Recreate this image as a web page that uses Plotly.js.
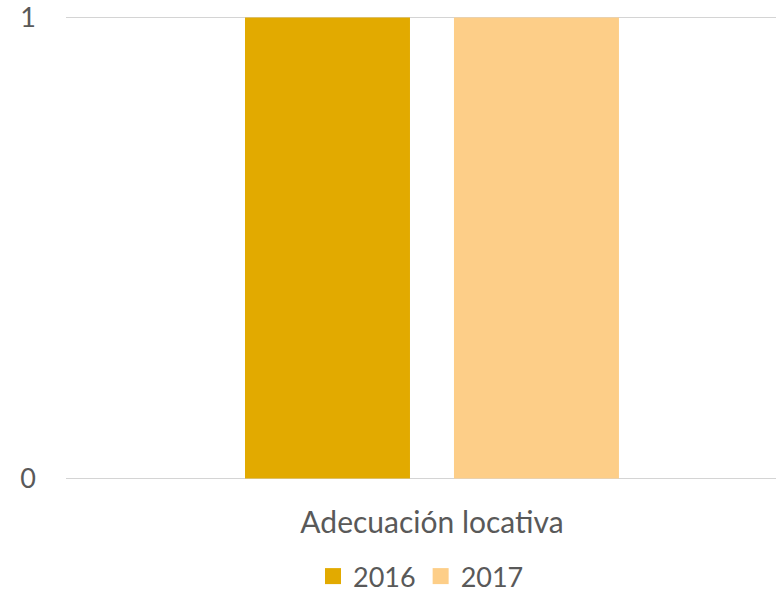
<!DOCTYPE html>
<html>
<head>
<meta charset="utf-8">
<script src="https://cdn.plot.ly/plotly-3.0.1.min.js"></script>
<style>body{margin:0;background:#fff}#chart{width:776px;height:595px}</style>
</head>
<body>
<div id="chart"></div>
<script>
const categories = ["Adecuación locativa"];
const seriesNames = ["2016", "2017"];
const values2016 = [1];
const values2017 = [1];
const colors = ["#E2AA00", "#FDCE88"];

const traces = [
  {type: "bar", name: seriesNames[0], x: categories, y: values2016, marker: {color: colors[0]}, hoverinfo: "none", showlegend: false},
  {type: "bar", name: seriesNames[1], x: categories, y: values2017, marker: {color: colors[1]}, hoverinfo: "none", showlegend: false},
  {type: "scatter", mode: "markers", name: seriesNames[0], x: categories, y: [null], marker: {color: colors[0], symbol: "square", size: 16}, hoverinfo: "none"},
  {type: "scatter", mode: "markers", name: seriesNames[1], x: categories, y: [null], marker: {color: colors[1], symbol: "square", size: 16}, hoverinfo: "none"}
];

const layout = {
  width: 776, height: 595,
  margin: {l: 66, r: 0, t: 13.4, b: 112.4},
  paper_bgcolor: "#fff", plot_bgcolor: "#fff",
  font: {family: "Lato, 'Open Sans', sans-serif", size: 27, color: "#595959"},
  barmode: "group", bargap: 0.429, bargroupgap: 0.2105,
  xaxis: {range: [-0.5, 0.47], automargin: false, showgrid: false, zeroline: false, showline: false, ticks: "", ticklabelstandoff: 19, tickfont: {size: 30, color: "#595959"}},
  yaxis: {range: [-0.01, 1.01], automargin: false, tickvals: [0, 1], ticktext: ["0", "1"], showgrid: true, gridcolor: "#d4d4d4", gridwidth: 1.5, zeroline: false, showline: false, ticks: "", ticklabelstandoff: 29, tickfont: {size: 27, color: "#595959"}},
  showlegend: true,
  legend: {orientation: "h", xref: "paper", x: 0.5, xanchor: "center", yref: "container", y: 0.031, yanchor: "middle", font: {size: 27, color: "#595959"}, itemwidth: 30, traceorder: "normal"}
};

Plotly.newPlot("chart", traces, layout, {staticPlot: true, displayModeBar: false});
</script>
</body>
</html>
